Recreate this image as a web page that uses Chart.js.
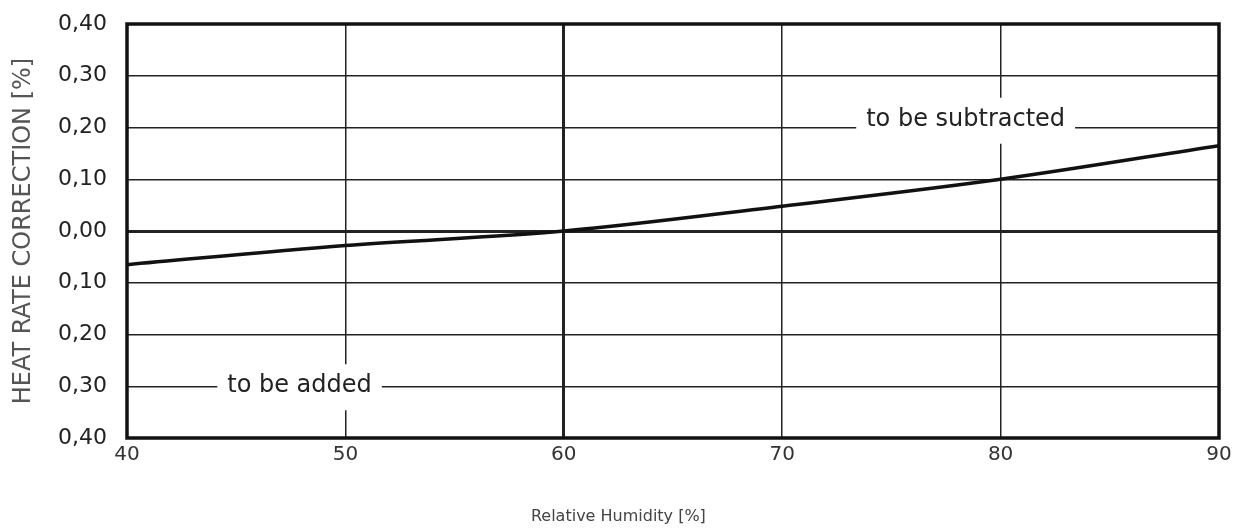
<!DOCTYPE html>
<html>
<head>
<meta charset="utf-8">
<title>Heat rate correction vs relative humidity</title>
<script src="https://cdn.jsdelivr.net/npm/chart.js@4.4.1/dist/chart.umd.min.js"></script>
<style>
  html, body { margin: 0; padding: 0; background: #fff; }
  canvas { display: block; }
</style>
</head>
<body>
<canvas id="humidityChart" width="1245" height="531"></canvas>
<script>
// values
var humidity = [40, 50, 60, 70, 80, 90];
var correction = [-0.065, -0.028, 0.0, 0.048, 0.100, 0.165];

var xTicks = [40, 50, 60, 70, 80, 90];
var yTicks = [-0.4, -0.3, -0.2, -0.1, 0.0, 0.1, 0.2, 0.3, 0.4];

// the two labels written on the grid
var noteText = ['to be added', 'to be subtracted'];
var noteX = [47.9, 78.4];
var noteY = [-0.30, 0.215];

var xTitle = 'Relative Humidity [%]';

var FONT = "'DejaVu Sans', 'Liberation Sans', sans-serif";

function fmtCorrection(v) {
    // the scale prints magnitudes only, with a decimal comma
    return Math.abs(v).toFixed(2).replace('.', ',');
}

// white-backed notes, the x title (sits left of centre) and the heavy frame
var framePlugin = {
    id: 'frame',
    beforeDatasetsDraw: function (chart) {
        var ctx = chart.ctx;
        var xs = chart.scales.x, ys = chart.scales.y;
        ctx.save();
        ctx.font = '24px ' + FONT;
        ctx.textAlign = 'center';
        ctx.textBaseline = 'middle';
        for (var i = 0; i < noteText.length; i++) {
            var px = xs.getPixelForValue(noteX[i]);
            var py = ys.getPixelForValue(noteY[i]);
            var w = ctx.measureText(noteText[i]).width;
            ctx.fillStyle = '#fff';
            ctx.fillRect(px - w / 2 - 10, py - 22, w + 20, 46);
            ctx.fillStyle = '#222';
            ctx.fillText(noteText[i], px, py);
        }
        ctx.restore();
    },
    afterDatasetsDraw: function (chart) {
        var a = chart.chartArea;
        var ctx = chart.ctx;
        ctx.save();
        ctx.strokeStyle = '#111';
        ctx.lineWidth = 3.5;
        ctx.strokeRect(a.left, a.top, a.right - a.left, a.bottom - a.top);

        ctx.font = '16px ' + FONT;
        ctx.fillStyle = '#444';
        ctx.textAlign = 'center';
        ctx.textBaseline = 'middle';
        ctx.fillText(xTitle, a.left + (a.right - a.left) * 0.45, chart.height - 14);
        ctx.restore();
    }
};

var ctx = document.getElementById('humidityChart').getContext('2d');

var chart = new Chart(ctx, {
    type: 'line',
    data: {
        datasets: [{
            label: 'Heat rate correction',
            data: humidity.map(function (h, i) { return { x: h, y: correction[i] }; }),
            borderColor: '#111',
            borderWidth: 3.5,
            pointRadius: 0,
            cubicInterpolationMode: 'monotone',
            fill: false
        }]
    },
    options: {
        responsive: false,
        animation: false,
        devicePixelRatio: 1,
        layout: { padding: { top: 24, right: 26, left: 0, bottom: 0 } },
        plugins: {
            legend: { display: false },
            tooltip: { enabled: false }
        },
        scales: {
            x: {
                type: 'linear',
                min: 40,
                max: 90,
                afterBuildTicks: function (axis) {
                    axis.ticks = xTicks.map(function (v) { return { value: v }; });
                },
                afterFit: function (axis) { axis.height = 93; },
                grid: {
                    color: '#222',
                    lineWidth: function (c) { return c.tick && c.tick.value === 60 ? 3 : 1.5; },
                    drawTicks: false
                },
                border: { display: false },
                ticks: {
                    padding: 5,
                    color: '#333',
                    font: { family: FONT, size: 20 },
                    maxRotation: 0
                }
            },
            y: {
                type: 'linear',
                min: -0.4,
                max: 0.4,
                afterBuildTicks: function (axis) {
                    axis.ticks = yTicks.map(function (v) { return { value: v }; });
                },
                afterFit: function (axis) {
                    axis.width = 127;
                    axis.paddingTop = 0;
                    axis.paddingBottom = 0;
                },
                grid: {
                    color: '#222',
                    lineWidth: function (c) { return c.tick && Math.abs(c.tick.value) < 1e-9 ? 3 : 1.5; },
                    drawTicks: false
                },
                border: { display: false },
                ticks: {
                    padding: 20,
                    color: '#222',
                    font: { family: FONT, size: 22 },
                    callback: function (v) { return fmtCorrection(v); }
                },
                title: {
                    display: true,
                    text: 'HEAT RATE CORRECTION [%]',
                    color: '#555',
                    font: { family: FONT, size: 24 },
                    padding: { top: 9, bottom: 0 }
                }
            }
        }
    },
    plugins: [framePlugin]
});
</script>
</body>
</html>
